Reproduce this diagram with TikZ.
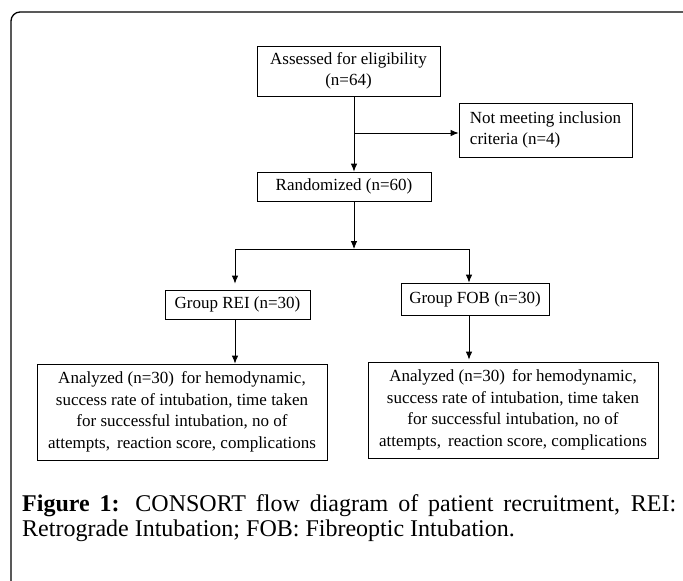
\documentclass[tikz,border=0pt]{standalone}
\usepackage{fontspec}
\setmainfont{Liberation Serif}
\usetikzlibrary{arrows.meta}
\tikzset{
  box/.style={draw, line width=0.8pt, inner sep=0pt, align=center,
    font=\fontsize{17}{21.5}\selectfont},
  arr/.style={line width=0.8pt, -{Latex[length=8pt,width=6.5pt]}},
  ln/.style={line width=0.8pt},
  frame/.style={line width=1.3pt, rounded corners=9pt}
}
\begin{document}
\begin{tikzpicture}[x=1pt,y=-1pt]
\useasboundingbox (0,0) rectangle (683,581);
% outer frame
\draw[frame] (11,590) -- (11,12) -- (690,12);
% boxes
\node[box, minimum width=183pt, minimum height=50pt] (A) at (348.5,71) {Assessed for eligibility\\(n=64)};
\node[box, minimum width=173pt, minimum height=54pt, align=left] (N) at (545.5,130) {Not meeting inclusion\\criteria (n=4)};
\node[box, minimum width=174pt, minimum height=29pt] (R) at (344,186.5) {Randomized (n=60)};
\node[box, minimum width=145pt, minimum height=29pt] (G1) at (237.5,304.5) {Group REI (n=30)};
\node[box, minimum width=148pt, minimum height=32pt] (G2) at (475,299) {Group FOB (n=30)};
\node[box, minimum width=290pt, minimum height=96pt] (L) at (182,412) {Analyzed (n=30) \,for hemodynamic,\\success rate of intubation, time taken\\for successful intubation, no of\\attempts, \,reaction score, complications};
\node[box, minimum width=290pt, minimum height=96pt] (Rt) at (513,410) {Analyzed (n=30) \,for hemodynamic,\\success rate of intubation, time taken\\for successful intubation, no of\\attempts, \,reaction score, complications};
% coordinates
\coordinate (s1) at (354,133);
\coordinate (sp) at (354,249);
\coordinate (lb) at (235,249);
\coordinate (rb) at (469,249);
% connectors
\draw[arr] (A.south -| s1) -- (R.north -| s1);
\draw[arr] (s1) -- (N.west |- s1);
\draw[arr] (R.south -| sp) -- (sp);
\draw[ln] (lb) -- (rb);
\draw[arr, shorten >=6pt] (lb) -- (G1.north -| lb);
\draw[arr] (rb) -- (G2.north -| rb);
\draw[arr] (G1.south -| lb) -- (L.north -| lb);
\draw[arr, shorten >=2pt] (G2.south -| rb) -- (Rt.north -| rb);
% caption
\node[anchor=north west, inner sep=0pt, text width=654pt, align=justify,
  font=\fontsize{24}{25.5}\selectfont] (cap) at (22,494)
  {\textbf{Figure 1:} CONSORT flow diagram of patient recruitment, REI:\linebreak
   Retrograde Intubation; FOB: Fibreoptic Intubation.};
\end{tikzpicture}
\end{document}
